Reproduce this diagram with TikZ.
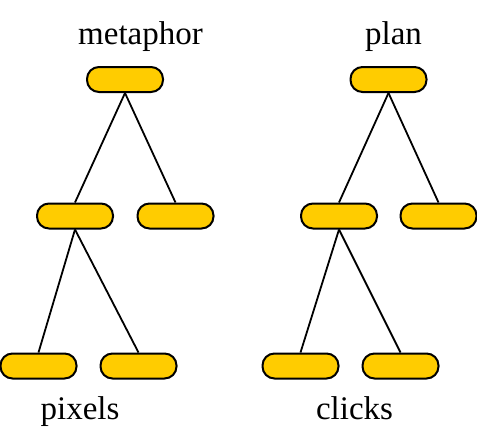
\documentclass[tikz,border=0pt]{standalone}
\usepackage{fontspec}
\setmainfont{Liberation Serif}
\usepackage{tikz}
\usetikzlibrary{positioning}
\definecolor{boxgold}{RGB}{255,204,0}

\begin{document}
\begin{tikzpicture}[x=1pt,y=-1pt,-,auto,
    box/.style={draw,line width=2pt,fill=boxgold,rounded corners=12pt,minimum width=76pt,minimum height=25pt,inner sep=0pt},
    word/.style={font=\fontsize{33}{38}\selectfont,anchor=base}]
    \useasboundingbox (0,0) rectangle (477,447);
    % left tree
    \node[box] (A) at (125,79.5)   {};
    \node[box] (B) at (75,216)     {};
    \node[box] (C) at (175.5,216)  {};
    \node[box] (D) at (38.5,366)   {};
    \node[box] (E) at (138.5,366)  {};
    % right tree
    \node[box] (F) at (388.5,79.5) {};
    \node[box] (G) at (339,216)    {};
    \node[box] (H) at (438.5,216)  {};
    \node[box] (I) at (300.5,366)  {};
    \node[box] (J) at (400.5,366)  {};
    % labels
    \node[word] (K) at (140.5,45)  {metaphor};
    \node[word] (L) at (393.5,45)  {plan};
    \node[word] (M) at (80,419)    {pixels};
    \node[word] (N) at (354.5,419) {clicks};
    % paths of both trees
    \path[line width=1.8pt]
    (A.south) edge (B.north)
    (A.south) edge (C.north)
    (B.south) edge (D.north)
    (B.south) edge (E.north)
    (F.south) edge (G.north)
    (F.south) edge (H.north)
    (G.south) edge (I.north)
    (G.south) edge (J.north);
\end{tikzpicture}
\end{document}
